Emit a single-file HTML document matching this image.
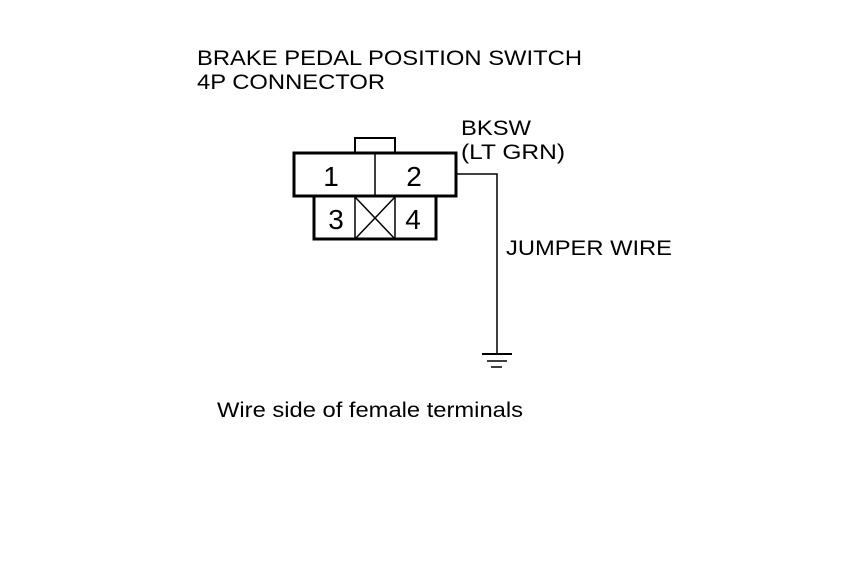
<!DOCTYPE html>
<html><head><style>
body{margin:0;background:#fff;}
svg{display:block;}
text{font-family:"Liberation Sans",sans-serif;fill:#000;}
</style></head><body>
<svg width="860" height="580" viewBox="0 0 860 580">
<rect width="860" height="580" fill="#fff"/>
<text x="197" y="65" font-size="21" textLength="385" lengthAdjust="spacingAndGlyphs">BRAKE PEDAL POSITION SWITCH</text>
<text x="197" y="89" font-size="21" textLength="188" lengthAdjust="spacingAndGlyphs">4P CONNECTOR</text>
<text x="461" y="135" font-size="21" textLength="70" lengthAdjust="spacingAndGlyphs">BKSW</text>
<text x="461" y="159" font-size="21" textLength="104" lengthAdjust="spacingAndGlyphs">(LT GRN)</text>
<text x="506" y="255" font-size="21" textLength="166" lengthAdjust="spacingAndGlyphs">JUMPER WIRE</text>
<text x="217" y="417" font-size="21" textLength="306" lengthAdjust="spacingAndGlyphs">Wire side of female terminals</text>
<g stroke="#000" fill="none">
<rect x="355" y="138" width="40" height="15" stroke-width="2"/>
<rect x="294" y="153" width="162" height="43" stroke-width="3" fill="#fff"/>
<line x1="375" y1="153" x2="375" y2="196" stroke-width="1.5"/>
<path d="M314 197 V239 H436 V197" stroke-width="3"/>
<line x1="355" y1="196" x2="355" y2="239" stroke-width="1.5"/>
<line x1="395" y1="196" x2="395" y2="239" stroke-width="1.5"/>
<line x1="355" y1="197" x2="395" y2="239" stroke-width="1.5"/>
<line x1="395" y1="197" x2="355" y2="239" stroke-width="1.5"/>
<path d="M456 174 H497 V354" stroke-width="1.5"/>
<line x1="482" y1="354" x2="512" y2="354" stroke-width="2"/>
<line x1="487" y1="361" x2="507" y2="361" stroke-width="1.5"/>
<line x1="491" y1="367" x2="502" y2="367" stroke-width="1.5"/>
</g>
<text x="331" y="186" font-size="28" text-anchor="middle">1</text>
<text x="414" y="186" font-size="28" text-anchor="middle">2</text>
<text x="336" y="229" font-size="28" text-anchor="middle">3</text>
<text x="413" y="229" font-size="28" text-anchor="middle">4</text>
</svg>
</body></html>
